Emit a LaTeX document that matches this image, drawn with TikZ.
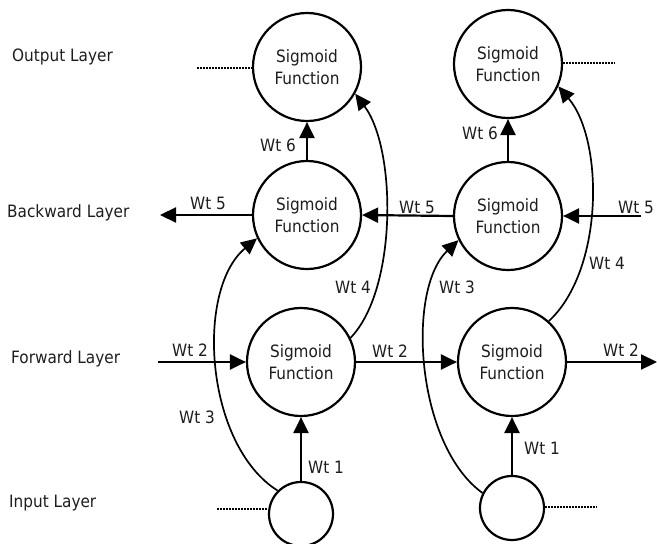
\documentclass[tikz,border=0pt]{standalone}
\usepackage{fontspec}
\setmainfont{DejaVu Sans Condensed}
\usetikzlibrary{arrows.meta}
\definecolor{ink}{RGB}{30,30,30}
\begin{document}
\begin{tikzpicture}[x=1pt,y=-1pt,
  every node/.style={font=\fontsize{17}{22}\selectfont, text=ink},
  neuron/.style={circle, draw=black, line width=2.2pt, minimum size=108pt, inner sep=0pt, align=center, fill=white},
  inneuron/.style={circle, draw=black, line width=2.2pt, minimum size=64pt, inner sep=0pt, fill=white},
  link/.style={line width=2.2pt, -{Triangle[length=16pt,width=15pt]}},
  curvelink/.style={line width=1.7pt, -{Triangle[length=16pt,width=15pt]}},
  stub/.style={line width=1.5pt, dash pattern=on 1.6pt off 1.4pt},
  wt/.style={inner sep=1pt},
  layer/.style={anchor=west, inner sep=0pt}]
\useasboundingbox (0,0) rectangle (657,544);

% layer names
\node[layer] (lo) at (12,57)  {Output Layer};
\node[layer] (lb) at (7,213)  {Backward Layer};
\node[layer] (lf) at (11,359) {Forward Layer};
\node[layer] (li) at (9,503)  {Input Layer};

% neurons
\node[neuron] (o1) at (307,67)  {Sigmoid\\Function};
\node[neuron] (o2) at (508,64)  {Sigmoid\\Function};
\node[neuron] (b1) at (307,215) {Sigmoid\\Function};
\node[neuron] (b2) at (508,216) {Sigmoid\\Function};
\node[neuron] (f1) at (301,362) {Sigmoid\\Function};
\node[neuron] (f2) at (512,362) {Sigmoid\\Function};
\node[inneuron] (i1) at (301,514) {};
\node[inneuron] (i2) at (512,508) {};

% free ends
\coordinate (oL) at (197,68);
\coordinate (oR) at (615,63);
\coordinate (bL) at (160,215);
\coordinate (bR) at (641,216);
\coordinate (fL) at (158,362);
\coordinate (fR) at (657,362);
\coordinate (iL) at (217,509);
\coordinate (iR) at (597,507);

% continuation stubs
\draw[stub] (oL) -- (oL -| o1.west);
\draw[stub] (oR -| o2.east) -- (oR);
\draw[stub] (iL) -- (i1.west |- iL);
\draw[stub] (i2.east |- iR) -- (iR);

% backward layer
\draw[link] (b1.west) -- (bL);
\draw[link] (b2.west) -- (b1.east);
\draw[link] (bR) -- (b2.east);

% forward layer
\draw[link] (fL) -- (f1.west);
\draw[link] (f1.east) -- (f2.west);
\draw[link] (f2.east) -- (fR);

% vertical links
\draw[link] (i1.north) -- (f1.south);
\draw[link] (i2.north) -- (f2.south);
\draw[link] (b1.north) -- (o1.south);
\draw[link] (b2.north) -- (o2.south);

% input -> backward (Wt 3)
\draw[curvelink] (i1.135) .. controls (205,445) and (195,290) .. (b1.205);
\draw[curvelink] (i2.153) .. controls (416,445) and (406,290) .. (b2.206);

% forward -> output (Wt 4)
\draw[curvelink] (f1.26) .. controls (397,290) and (397,150) .. (o1.331);
\draw[curvelink] (f2.48) .. controls (604,270) and (604,140) .. (o2.336);

% weights
\node[wt] (w1a) at (326,467) {Wt 1};
\node[wt] (w1b) at (542,448) {Wt 1};
\node[wt] (w2a) at (190,350) {Wt 2};
\node[wt] (w2b) at (390,351) {Wt 2};
\node[wt] (w2c) at (621,350) {Wt 2};
\node[wt] (w3a) at (197,417) {Wt 3};
\node[wt] (w3b) at (457,287) {Wt 3};
\node[wt] (w4a) at (353,287) {Wt 4};
\node[wt] (w4b) at (607,263) {Wt 4};
\node[wt] (w5a) at (208,203) {Wt 5};
\node[wt] (w5b) at (417,207) {Wt 5};
\node[wt] (w5c) at (636,207) {Wt 5};
\node[wt] (w6a) at (278,145) {Wt 6};
\node[wt] (w6b) at (480,133) {Wt 6};
\end{tikzpicture}
\end{document}
